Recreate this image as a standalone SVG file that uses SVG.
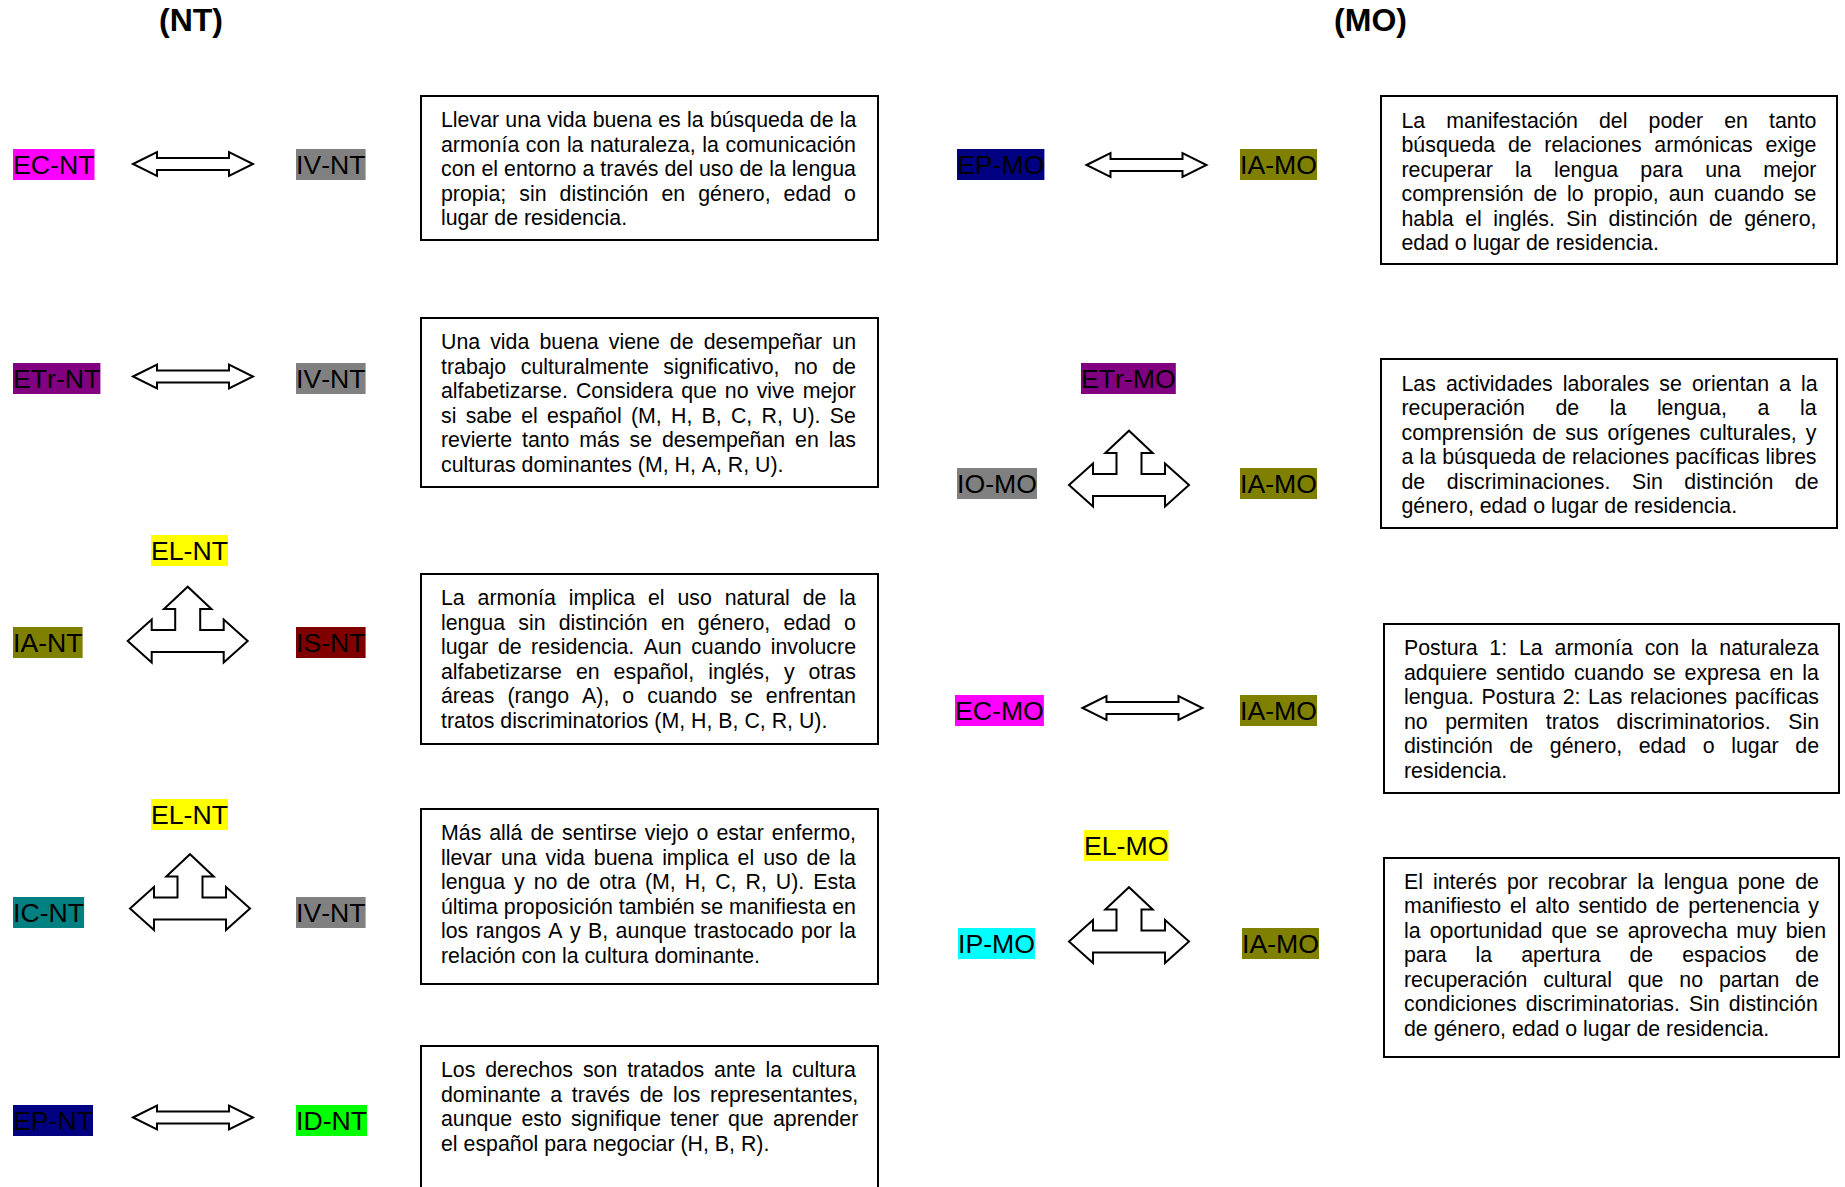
<svg xmlns="http://www.w3.org/2000/svg" xmlns:xlink="http://www.w3.org/1999/xlink" width="1845" height="1187" viewBox="0 0 1845 1187">
<style>
text{font-family:"Liberation Sans",Arial,sans-serif;fill:#000;font-kerning:none}
.title{font-size:32px;font-weight:bold;text-anchor:middle}
.lbl{font-size:26.67px}
.body{font-size:21.33px}
.box{fill:none;stroke:#000;stroke-width:2}
.arr{fill:#fff;stroke:#000;stroke-width:2;stroke-linejoin:miter}
</style>
<defs>
<path id="dbl" class="arr" d="M-60 0 L-36 -12 L-36 -6 L36 -6 L36 -12 L60 0 L36 12 L36 6 L-36 6 L-36 12 Z"/>
<path id="tri" class="arr" d="M-60 0 L-36 -21.5 L-36 -11 L-12.5 -11 L-12.5 -32 L-23.7 -32 L0 -54.3 L23.7 -32 L12.5 -32 L12.5 -11 L36 -11 L36 -21.5 L60 0 L36 21.5 L36 11 L-36 11 L-36 21.5 Z"/>
</defs>
<rect width="1845" height="1187" fill="#fff"/>

<g id="titles">
<text class="title" x="191" y="31">(NT)</text>
<text class="title" x="1370.5" y="31">(MO)</text>
</g>

<g id="connectors">
<use href="#dbl" transform="translate(193,164)"/>
<use href="#dbl" transform="translate(193,376.5)"/>
<use href="#tri" transform="translate(187.7,641)"/>
<use href="#tri" transform="translate(190,908.5)"/>
<use href="#dbl" transform="translate(193,1117.5)"/>
<use href="#dbl" transform="translate(1146.5,165)"/>
<use href="#tri" transform="translate(1129,485)"/>
<use href="#dbl" transform="translate(1142.5,708)"/>
<use href="#tri" transform="translate(1129,941.5)"/>
</g>

<g id="n-EC-NT"><rect x="13" y="149" width="81.5" height="31" fill="#FF00FF"/><text class="lbl" x="13" y="173.8">EC-NT</text></g>
<g id="n-IV-NT-1"><rect x="296" y="149" width="69.6" height="31" fill="#808080"/><text class="lbl" x="296" y="173.8">IV-NT</text></g>
<g id="n-ETr-NT"><rect x="13" y="363" width="87.4" height="31" fill="#800080"/><text class="lbl" x="13" y="387.8">ETr-NT</text></g>
<g id="n-IV-NT-2"><rect x="296" y="363" width="69.6" height="31" fill="#808080"/><text class="lbl" x="296" y="387.8">IV-NT</text></g>
<g id="n-EL-NT-1"><rect x="151" y="535" width="77" height="31" fill="#FFFF00"/><text class="lbl" x="151" y="559.8">EL-NT</text></g>
<g id="n-IA-NT"><rect x="13" y="627" width="69.6" height="31" fill="#808000"/><text class="lbl" x="13" y="651.8">IA-NT</text></g>
<g id="n-IS-NT"><rect x="296" y="627" width="69.6" height="31" fill="#800000"/><text class="lbl" x="296" y="651.8">IS-NT</text></g>
<g id="n-EL-NT-2"><rect x="151" y="799" width="77" height="31" fill="#FFFF00"/><text class="lbl" x="151" y="823.8">EL-NT</text></g>
<g id="n-IC-NT"><rect x="13" y="897" width="71.1" height="31" fill="#008080"/><text class="lbl" x="13" y="921.8">IC-NT</text></g>
<g id="n-IV-NT-3"><rect x="296" y="897" width="69.6" height="31" fill="#808080"/><text class="lbl" x="296" y="921.8">IV-NT</text></g>
<g id="n-EP-NT"><rect x="13" y="1105" width="80" height="31" fill="#000080"/><text class="lbl" x="13" y="1129.8">EP-NT</text></g>
<g id="n-ID-NT"><rect x="296" y="1105" width="71.1" height="31" fill="#00FF00"/><text class="lbl" x="296" y="1129.8">ID-NT</text></g>

<g id="n-EP-MO"><rect x="957" y="149" width="87.4" height="31" fill="#000080"/><text class="lbl" x="957" y="173.8">EP-MO</text></g>
<g id="n-IA-MO-1"><rect x="1240" y="149" width="77" height="31" fill="#808000"/><text class="lbl" x="1240" y="173.8">IA-MO</text></g>
<g id="n-ETr-MO"><rect x="1081" y="363" width="94.8" height="31" fill="#800080"/><text class="lbl" x="1081" y="387.8">ETr-MO</text></g>
<g id="n-IO-MO"><rect x="957" y="468" width="80" height="31" fill="#808080"/><text class="lbl" x="957" y="492.8">IO-MO</text></g>
<g id="n-IA-MO-2"><rect x="1240" y="468" width="77" height="31" fill="#808000"/><text class="lbl" x="1240" y="492.8">IA-MO</text></g>
<g id="n-EC-MO"><rect x="955" y="695" width="88.9" height="31" fill="#FF00FF"/><text class="lbl" x="955" y="719.8">EC-MO</text></g>
<g id="n-IA-MO-3"><rect x="1240" y="695" width="77" height="31" fill="#808000"/><text class="lbl" x="1240" y="719.8">IA-MO</text></g>
<g id="n-EL-MO"><rect x="1084" y="830" width="84.5" height="31" fill="#FFFF00"/><text class="lbl" x="1084" y="854.8">EL-MO</text></g>
<g id="n-IP-MO"><rect x="958" y="928" width="77" height="31" fill="#00FFFF"/><text class="lbl" x="958" y="952.8">IP-MO</text></g>
<g id="n-IA-MO-4"><rect x="1242" y="928" width="77" height="31" fill="#808000"/><text class="lbl" x="1242" y="952.8">IA-MO</text></g>

<g id="box-NT-1">
<rect class="box" x="421" y="96" width="457" height="144"/>
<text class="body" x="441" y="127" word-spacing="0.35">Llevar una vida buena es la búsqueda de la</text>
<text class="body" x="441" y="151.5" word-spacing="0.7">armonía con la naturaleza, la comunicación</text>
<text class="body" x="441" y="176" word-spacing="0.12">con el entorno a través del uso de la lengua</text>
<text class="body" x="441" y="200.5" word-spacing="7.1">propia; sin distinción en género, edad o</text>
<text class="body" x="441" y="225">lugar de residencia.</text>
</g>

<g id="box-NT-2">
<rect class="box" x="421" y="318" width="457" height="169"/>
<text class="body" x="441" y="349" word-spacing="4.15">Una vida buena viene de desempeñar un</text>
<text class="body" x="441" y="373.5" word-spacing="8.6">trabajo culturalmente significativo, no de</text>
<text class="body" x="441" y="398" word-spacing="2.14">alfabetizarse. Considera que no vive mejor</text>
<text class="body" x="441" y="422.5" word-spacing="3.32">si sabe el español (M, H, B, C, R, U). Se</text>
<text class="body" x="441" y="447" word-spacing="3.95">revierte tanto más se desempeñan en las</text>
<text class="body" x="441" y="471.5">culturas dominantes (M, H, A, R, U).</text>
</g>

<g id="box-NT-3">
<rect class="box" x="421" y="574" width="457" height="170"/>
<text class="body" x="441" y="605" word-spacing="6.94">La armonía implica el uso natural de la</text>
<text class="body" x="441" y="629.5" word-spacing="7.3">lengua sin distinción en género, edad o</text>
<text class="body" x="441" y="654" word-spacing="3.56">lugar de residencia. Aun cuando involucre</text>
<text class="body" x="441" y="678.5" word-spacing="8.06">alfabetizarse en español, inglés, y otras</text>
<text class="body" x="441" y="703" word-spacing="7.1">áreas (rango A), o cuando se enfrentan</text>
<text class="body" x="441" y="727.5">tratos discriminatorios (M, H, B, C, R, U).</text>
</g>

<g id="box-NT-4">
<rect class="box" x="421" y="809" width="457" height="175"/>
<text class="body" x="441" y="840" word-spacing="2.04">Más allá de sentirse viejo o estar enfermo,</text>
<text class="body" x="441" y="864.5" word-spacing="3.11">llevar una vida buena implica el uso de la</text>
<text class="body" x="441" y="889" word-spacing="3.09">lengua y no de otra (M, H, C, R, U). Esta</text>
<text class="body" x="441" y="913.5">última proposición también se manifiesta en</text>
<text class="body" x="441" y="938" word-spacing="1.48">los rangos A y B, aunque trastocado por la</text>
<text class="body" x="441" y="962.5">relación con la cultura dominante.</text>
</g>

<g id="box-NT-5">
<rect class="box" x="421" y="1046" width="457" height="160"/>
<text class="body" x="441" y="1077" word-spacing="3.95">Los derechos son tratados ante la cultura</text>
<text class="body" x="441" y="1101.5" word-spacing="3.78">dominante a través de los representantes,</text>
<text class="body" x="441" y="1126" word-spacing="3.3">aunque esto signifique tener que aprender</text>
<text class="body" x="441" y="1150.5">el español para negociar (H, B, R).</text>
</g>

<g id="box-MO-1">
<rect class="box" x="1381" y="96" width="456" height="168"/>
<text class="body" x="1401.5" y="127.5" word-spacing="15.17">La manifestación del poder en tanto</text>
<text class="body" x="1401.5" y="152" word-spacing="6.8">búsqueda de relaciones armónicas exige</text>
<text class="body" x="1401.5" y="176.5" word-spacing="16.36">recuperar la lengua para una mejor</text>
<text class="body" x="1401.5" y="201" word-spacing="3.95">comprensión de lo propio, aun cuando se</text>
<text class="body" x="1401.5" y="225.5" word-spacing="5.53">habla el inglés. Sin distinción de género,</text>
<text class="body" x="1401.5" y="250">edad o lugar de residencia.</text>
</g>

<g id="box-MO-2">
<rect class="box" x="1381" y="359" width="456" height="169"/>
<text class="body" x="1401.5" y="390.5" word-spacing="4.15">Las actividades laborales se orientan a la</text>
<text class="body" x="1401.5" y="415" word-spacing="24.66">recuperación de la lengua, a la</text>
<text class="body" x="1401.5" y="439.5" word-spacing="3.08">comprensión de sus orígenes culturales, y</text>
<text class="body" x="1401.5" y="464" word-spacing="0.2">a la búsqueda de relaciones pacíficas libres</text>
<text class="body" x="1401.5" y="488.5" word-spacing="15.65">de discriminaciones. Sin distinción de</text>
<text class="body" x="1401.5" y="513">género, edad o lugar de residencia.</text>
</g>

<g id="box-MO-3">
<rect class="box" x="1384" y="624" width="455" height="169"/>
<text class="body" x="1404" y="655" word-spacing="5.92">Postura 1: La armonía con la naturaleza</text>
<text class="body" x="1404" y="679.5" word-spacing="3.15">adquiere sentido cuando se expresa en la</text>
<text class="body" x="1404" y="704" word-spacing="1.66">lengua. Postura 2: Las relaciones pacíficas</text>
<text class="body" x="1404" y="728.5" word-spacing="11.6">no permiten tratos discriminatorios. Sin</text>
<text class="body" x="1404" y="753" word-spacing="10.67">distinción de género, edad o lugar de</text>
<text class="body" x="1404" y="777.5">residencia.</text>
</g>

<g id="box-MO-4">
<rect class="box" x="1384" y="858" width="455" height="199"/>
<text class="body" x="1404" y="888.5" word-spacing="4.06">El interés por recobrar la lengua pone de</text>
<text class="body" x="1404" y="913" word-spacing="2.77">manifiesto el alto sentido de pertenencia y</text>
<text class="body" x="1404" y="937.5" word-spacing="3.15">la oportunidad que se aprovecha muy bien</text>
<text class="body" x="1404" y="962" word-spacing="23">para la apertura de espacios de</text>
<text class="body" x="1404" y="986.5" word-spacing="9.96">recuperación cultural que no partan de</text>
<text class="body" x="1404" y="1011" word-spacing="3.17">condiciones discriminatorias. Sin distinción</text>
<text class="body" x="1404" y="1035.5">de género, edad o lugar de residencia.</text>
</g>
</svg>
